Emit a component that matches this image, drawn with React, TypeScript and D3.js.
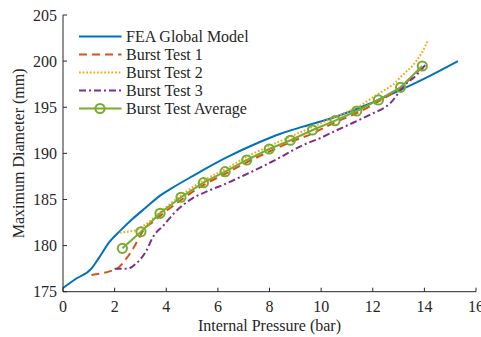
import { scaleLinear, line, curveMonotoneX } from "d3";

// pressure (bar), diameter (mm)
const feaModel: [number, number][] = [
  [0, 175.4], [0.5, 176.4], [1.1, 177.5], [1.4, 178.7], [1.8, 180.4], [2.25, 181.7],
  [2.7, 182.9], [3.2, 184.1], [3.8, 185.5], [4.2, 186.2], [5.0, 187.5], [6.3, 189.5],
  [7.6, 191.2], [8.4, 192.1], [9.3, 192.9], [10.6, 194.0], [11.9, 195.4], [12.7, 196.4],
  [13.1, 196.9], [14.0, 198.1], [15.3, 200.0],
];

const burstTest1: [number, number][] = [
  [1.1, 176.8], [1.5, 177.0], [1.8, 177.2], [2.1, 177.5], [2.4, 178.4], [2.7, 179.6],
  [2.9, 180.6], [3.1, 181.6], [3.5, 182.6], [3.8, 183.3], [4.6, 185.0], [5.4, 186.5],
  [6.3, 187.8], [7.1, 189.0], [8.0, 190.2], [8.8, 191.2], [9.7, 192.2], [10.5, 193.3],
  [11.4, 194.4], [12.2, 195.6], [13.1, 197.2], [13.6, 198.5], [14.0, 199.6],
];

const burstTest2: [number, number][] = [
  [2.2, 181.4], [2.5, 181.5], [2.85, 181.7], [3.2, 182.3], [3.8, 183.7], [4.6, 185.5],
  [5.4, 187.0], [6.3, 188.3], [7.1, 189.6], [8.0, 190.8], [8.8, 191.8], [9.7, 192.9],
  [10.5, 193.9], [11.4, 195.0], [12.3, 196.6], [12.8, 197.5], [13.2, 198.6], [13.6, 199.7],
  [13.9, 200.9], [14.15, 202.3],
];

const burstTest3: [number, number][] = [
  [2.0, 177.5], [2.5, 177.5], [2.85, 178.1], [3.2, 179.3], [3.5, 181.0], [3.9, 182.2],
  [4.3, 183.5], [5.0, 185.1], [5.6, 185.9], [6.3, 186.7], [7.0, 187.6], [7.6, 188.4],
  [8.3, 189.4], [9.3, 190.9], [10.0, 191.7], [10.6, 192.5], [11.3, 193.4], [11.9, 194.2],
  [12.7, 195.5], [13.2, 197.3], [13.7, 198.5], [14.1, 199.8],
];

const burstAverage: [number, number][] = [
  [2.3, 179.7], [3.02, 181.5], [3.76, 183.5], [4.57, 185.24], [5.44, 186.82],
  [6.28, 188.01], [7.12, 189.28], [7.99, 190.47], [8.81, 191.42], [9.67, 192.53],
  [10.54, 193.54], [11.38, 194.59], [12.22, 195.79], [13.08, 197.16], [13.92, 199.47],
];

const xTicks = [0, 2, 4, 6, 8, 10, 12, 14, 16];
const yTicks = [175, 180, 185, 190, 195, 200, 205];

type Series = {
  name: string;
  data: [number, number][];
  color: string;
  dash?: string;
  marker?: boolean;
};

const series: Series[] = [
  { name: "FEA Global Model", data: feaModel, color: "#0072BD" },
  { name: "Burst Test 1", data: burstTest1, color: "#D95319", dash: "8,5" },
  { name: "Burst Test 2", data: burstTest2, color: "#F7A81B", dash: "1.8,1.8" },
  { name: "Burst Test 3", data: burstTest3, color: "#7E2F8E", dash: "7,3,2,3" },
  { name: "Burst Test Average", data: burstAverage, color: "#77AC30", marker: true },
];

export default function App() {
  const width = 481;
  const height = 337;
  const margin = { top: 15, right: 5, bottom: 45.3, left: 63 };
  const font = "'Liberation Serif', 'DejaVu Serif', serif";
  const axisColor = "#262626";
  const fs = 16;

  const x = scaleLinear().domain([0, 16]).range([margin.left, width - margin.right]);
  const y = scaleLinear().domain([175, 205]).range([height - margin.bottom, margin.top]);

  const smooth = line<[number, number]>()
    .x((d) => x(d[0]))
    .y((d) => y(d[1]))
    .curve(curveMonotoneX);
  const straight = line<[number, number]>()
    .x((d) => x(d[0]))
    .y((d) => y(d[1]));

  const x0 = x(0);
  const yBase = y(175);

  return (
    <svg
      width={width}
      height={height}
      style={{ position: "fixed", left: 0, top: 0, background: "#fff" }}
      fontFamily={font}
    >
      {series.map((s) => (
        <g key={s.name}>
          <path
            d={(s.marker ? straight : smooth)(s.data) ?? ""}
            fill="none"
            stroke={s.color}
            strokeWidth={2}
            strokeDasharray={s.dash}
          />
          {s.marker
            ? s.data.map((d, i) => (
                <circle key={i} cx={x(d[0])} cy={y(d[1])} r={4.6} fill="none" stroke={s.color} strokeWidth={2} />
              ))
            : null}
        </g>
      ))}

      {/* axes */}
      <line x1={x0} x2={x0} y1={y(205)} y2={yBase} stroke={axisColor} strokeWidth={1} />
      <line x1={x0} x2={x(16)} y1={yBase} y2={yBase} stroke={axisColor} strokeWidth={1} />
      {yTicks.map((t) => (
        <g key={t}>
          <line x1={x0} x2={x0 + 4} y1={y(t)} y2={y(t)} stroke={axisColor} />
          <text x={x0 - 6} y={y(t)} dy="0.35em" textAnchor="end" fontSize={fs} fill={axisColor}>
            {t}
          </text>
        </g>
      ))}
      {xTicks.map((t) => (
        <g key={t}>
          <line x1={x(t)} x2={x(t)} y1={yBase} y2={yBase - 4} stroke={axisColor} />
          <text x={x(t)} y={yBase + 20} textAnchor="middle" fontSize={fs} fill={axisColor}>
            {t}
          </text>
        </g>
      ))}
      <text x={(x(0) + x(16)) / 2} y={331} textAnchor="middle" fontSize={fs} fill={axisColor}>
        Internal Pressure (bar)
      </text>
      <text
        transform={`translate(24,${(y(175) + y(205)) / 2}) rotate(-90)`}
        textAnchor="middle"
        fontSize={fs}
        fill={axisColor}
      >
        Maximum Diameter (mm)
      </text>

      {/* legend */}
      {series.map((s, i) => {
        const ly = 36.5 + i * 18;
        return (
          <g key={s.name}>
            <line x1={79} x2={121.5} y1={ly} y2={ly} stroke={s.color} strokeWidth={2} strokeDasharray={s.dash} />
            {s.marker ? <circle cx={100} cy={ly} r={4.6} fill="none" stroke={s.color} strokeWidth={2} /> : null}
            <text x={126} y={ly} dy="0.35em" fontSize={fs} fill={axisColor}>
              {s.name}
            </text>
          </g>
        );
      })}
    </svg>
  );
}
